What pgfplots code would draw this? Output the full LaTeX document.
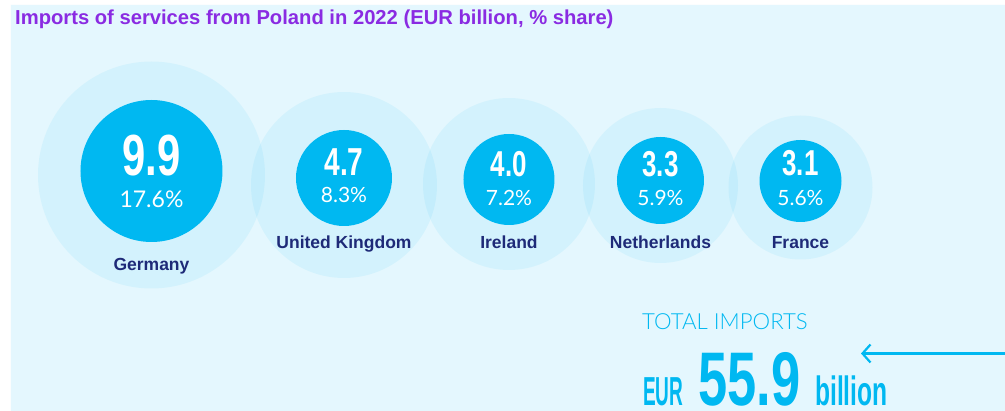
\documentclass[border=0pt]{standalone}
\usepackage{pgfplots}
\pgfplotsset{compat=1.18}
\usepackage{pgfplotstable}
\usepackage{graphicx}
\usepackage{fontspec}
\setmainfont{Liberation Sans}
\newfontfamily\lato{Lato}
\newfontfamily\latol{Lato Light}
\usetikzlibrary{arrows.meta}
\definecolor{bg}{HTML}{E4F7FE}
\definecolor{cyanc}{HTML}{00B8F1}
\definecolor{navy}{HTML}{1E2A78}
\definecolor{purp}{HTML}{8A2BE2}

\pgfplotstableread{
x yo ro yi ri vb vfs val sb sfs share lb name
151.5 175 113.5 171 71 176 58 9.9 208 23 17.6 271 Germany
344 185 93 178 48 176 39 4.7 203 21 8.3 249 {United Kingdom}
509 184 86 179.5 45.5 177 36 4.0 206 21 7.2 249 Ireland
660.5 185.5 77.5 180.5 43.5 177 36 3.3 206 21 5.9 249 Netherlands
800.5 187.5 72 181 41 176 36 3.1 206 21 5.6 249 France
}\bubbles

\begin{document}
\begin{tikzpicture}
\useasboundingbox (-502.5pt,-205.5pt) rectangle (502.5pt,205.5pt);
\clip (-502.5pt,-205.5pt) rectangle (502.5pt,205.5pt);
\fill[white] (-502.5pt,-205.5pt) rectangle (502.5pt,205.5pt);
\begin{axis}[at={(0,0)}, anchor=center, scale only axis,
  width=1005pt, height=411pt,
  xmin=0, xmax=1005, ymin=0, ymax=411, y dir=reverse,
  hide axis, clip=false]
% panel
\addplot[fill=bg, draw=none] coordinates {(11,5) (1010,5) (1010,420) (11,420) (11,5)};
% outer halos
\addplot[scatter, only marks, mark=*, point meta=\thisrow{ro},
  visualization depends on={\thisrow{ro} \as \rro},
  scatter/@pre marker code/.code={\scope[mark size=\rro, fill=cyanc, fill opacity=0.07, draw opacity=0, line width=0pt]},
  scatter/@post marker code/.code={\endscope}]
  table[x=x, y=yo] {\bubbles};
% inner circles
\addplot[scatter, only marks, mark=*, point meta=\thisrow{ri},
  visualization depends on={\thisrow{ri} \as \rri},
  scatter/@pre marker code/.code={\scope[mark size=\rri, fill=cyanc, draw opacity=0, line width=0pt]},
  scatter/@post marker code/.code={\endscope}]
  table[x=x, y=yi] {\bubbles};
% values
\addplot[only marks, mark=none, point meta=explicit symbolic,
  visualization depends on={\thisrow{vfs} \as \vfz},
  nodes near coords={\scalebox{0.72}[1]{\fontsize{\vfz}{\vfz}\selectfont\bfseries\pgfplotspointmeta}},
  nodes near coords style={anchor=base, text=white, inner sep=0pt}]
  table[x=x, y=vb, meta=val] {\bubbles};
% shares
\addplot[only marks, mark=none, point meta=explicit symbolic,
  visualization depends on={\thisrow{sfs} \as \sfz},
  nodes near coords={\lato\fontsize{\sfz}{\sfz}\selectfont\pgfplotspointmeta\%},
  nodes near coords style={anchor=base, text=white, inner sep=0pt}]
  table[x=x, y=sb, meta=share] {\bubbles};
% names
\addplot[only marks, mark=none, point meta=explicit symbolic,
  nodes near coords={\fontsize{17.5}{18}\selectfont\bfseries\pgfplotspointmeta},
  nodes near coords style={anchor=base, text=navy, inner sep=0pt}]
  table[x=x, y=lb, meta=name] {\bubbles};
% arrow
\addplot[cyanc, line width=2.2pt, -{Straight Barb[length=8pt, width=18pt]}]
  coordinates {(1015,353.5) (861,353.5)};
% title
\node[anchor=base west, inner sep=0pt, text=purp, font=\fontsize{20.2}{21}\selectfont\bfseries]
  at (axis cs:15,25) {Imports of services from Poland in 2022 (EUR billion, \% share)};
% total
\node[anchor=base west, inner sep=0pt, text=cyanc, font=\latol\fontsize{22.2}{23}\selectfont]
  at (axis cs:642,330) {TOTAL IMPORTS};
\node[anchor=base west, inner sep=0pt, text=cyanc]
  at (axis cs:643,405) {\scalebox{0.47}[1]{\fontsize{40.5}{41}\selectfont\bfseries EUR}};
\node[anchor=base west, inner sep=0pt, text=cyanc]
  at (axis cs:698,405) {\scalebox{0.69}[1]{\fontsize{76}{78}\selectfont\bfseries 55.9}};
\node[anchor=base west, inner sep=0pt, text=cyanc]
  at (axis cs:815,405) {\scalebox{0.6}[1]{\fontsize{41}{42}\selectfont\bfseries billion}};
\end{axis}
\end{tikzpicture}
\end{document}
